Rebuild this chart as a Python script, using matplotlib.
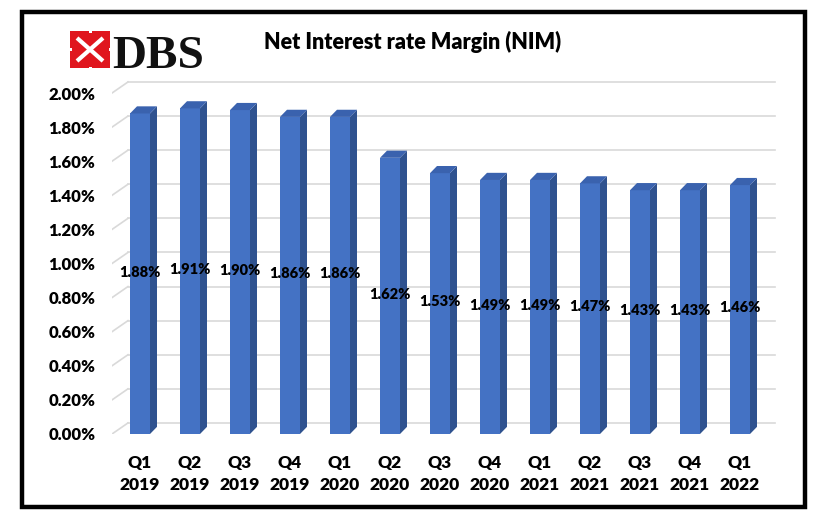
import matplotlib
matplotlib.use("Agg")
import matplotlib.pyplot as plt
from matplotlib.patches import Polygon, Rectangle
import numpy as np

quarters = ["Q1", "Q2", "Q3", "Q4", "Q1", "Q2", "Q3", "Q4", "Q1", "Q2", "Q3", "Q4", "Q1"]
years = ["2019", "2019", "2019", "2019", "2020", "2020", "2020", "2020",
         "2021", "2021", "2021", "2021", "2022"]
nim = [1.88, 1.91, 1.90, 1.86, 1.86, 1.62, 1.53, 1.49, 1.49, 1.47, 1.43, 1.43, 1.46]
yticks = [0.0, 0.2, 0.4, 0.6, 0.8, 1.0, 1.2, 1.4, 1.6, 1.8, 2.0]

FRONT = "#4472C4"
SIDE = "#2F528F"
TOP = "#3A62AE"
GRID = "#D9D9D9"
FONT = ["Lato", "DejaVu Sans"]
WT = "heavy"

fig = plt.figure(figsize=(8.25, 5.27), dpi=100)
W, H = 825, 527

# background layer in pixel coordinates: frame + logo
bg = fig.add_axes([0, 0, 1, 1])
bg.set_xlim(0, W)
bg.set_ylim(H, 0)
bg.axis("off")
bg.add_patch(Rectangle((22, 12), 783, 495, fill=False, ec="black", lw=3.2))

# DBS logo
bg.add_patch(Rectangle((70, 31), 40, 37, fc="#E0161E", ec="none"))
for (x0, y0, x1, y1) in [(77, 38, 103, 61), (103, 38, 77, 61)]:
    bg.plot([x0, x1], [y0, y1], color="white", lw=3.0, solid_capstyle="butt")
for (cx, cy) in [(90, 31), (90, 68), (70, 49.5), (110, 49.5)]:
    bg.add_patch(Rectangle((cx - 1.5, cy - 1.5), 3, 3, fc="white", ec="none"))
bg.text(112, 68, "DBS", fontsize=34, family="Liberation Serif", fontweight="bold",
        color="#111111", ha="left", va="baseline")

fig.text(413 / W, 1 - 42 / H, "Net Interest rate Margin (NIM)", fontsize=15.5,
         fontweight=WT, family=FONT, ha="center", va="center")

# main chart
ax = fig.add_axes([112 / W, 1 - 434 / H, 665.5 / W, (434 - 79.4) / H])
x = np.arange(len(nim))
ax.set_xlim(-0.56, 12.75)
ax.set_ylim(0, 2.08)
for s in ax.spines.values():
    s.set_visible(False)

# perspective gridlines
gdx, gdy = 0.32, 0.065
for t in yticks:
    ax.plot([-0.56, -0.56 + gdx], [t, t + gdy], color=GRID, lw=1.2, zorder=0)
    ax.plot([-0.56 + gdx, 12.7], [t + gdy, t + gdy], color=GRID, lw=1.2, zorder=0)

# 3D-ish bars
bw, dx, dy = 0.4, 0.14, 0.042
ax.bar(x, nim, width=bw, color=FRONT, zorder=3)
for xi, v in zip(x, nim):
    r = xi + bw / 2
    l = xi - bw / 2
    ax.add_patch(Polygon([(r, 0), (r + dx, dy), (r + dx, v + dy), (r, v)],
                         closed=True, fc=SIDE, ec="none", zorder=3))
    ax.add_patch(Polygon([(l, v), (r, v), (r + dx, v + dy), (l + dx, v + dy)],
                         closed=True, fc=TOP, ec="none", zorder=3))
    ax.text(xi, v / 2 + 0.01, f"{v:.2f}%", ha="center", va="center", fontsize=10.5,
            fontweight=WT, family=FONT, zorder=5)

ax.set_yticks(yticks)
ax.set_yticklabels([f"{t:.2f}%" for t in yticks], fontsize=12,
                   fontweight=WT, family=FONT)
ax.set_xticks(x)
ax.set_xticklabels([f"{q}\n{y}" for q, y in zip(quarters, years)], fontsize=12.5,
                   fontweight=WT, family=FONT, linespacing=1.45)
ax.tick_params(axis="y", length=0, pad=12)
ax.tick_params(axis="x", length=0, pad=15)

fig.savefig("out.png", dpi=100, facecolor="white")
